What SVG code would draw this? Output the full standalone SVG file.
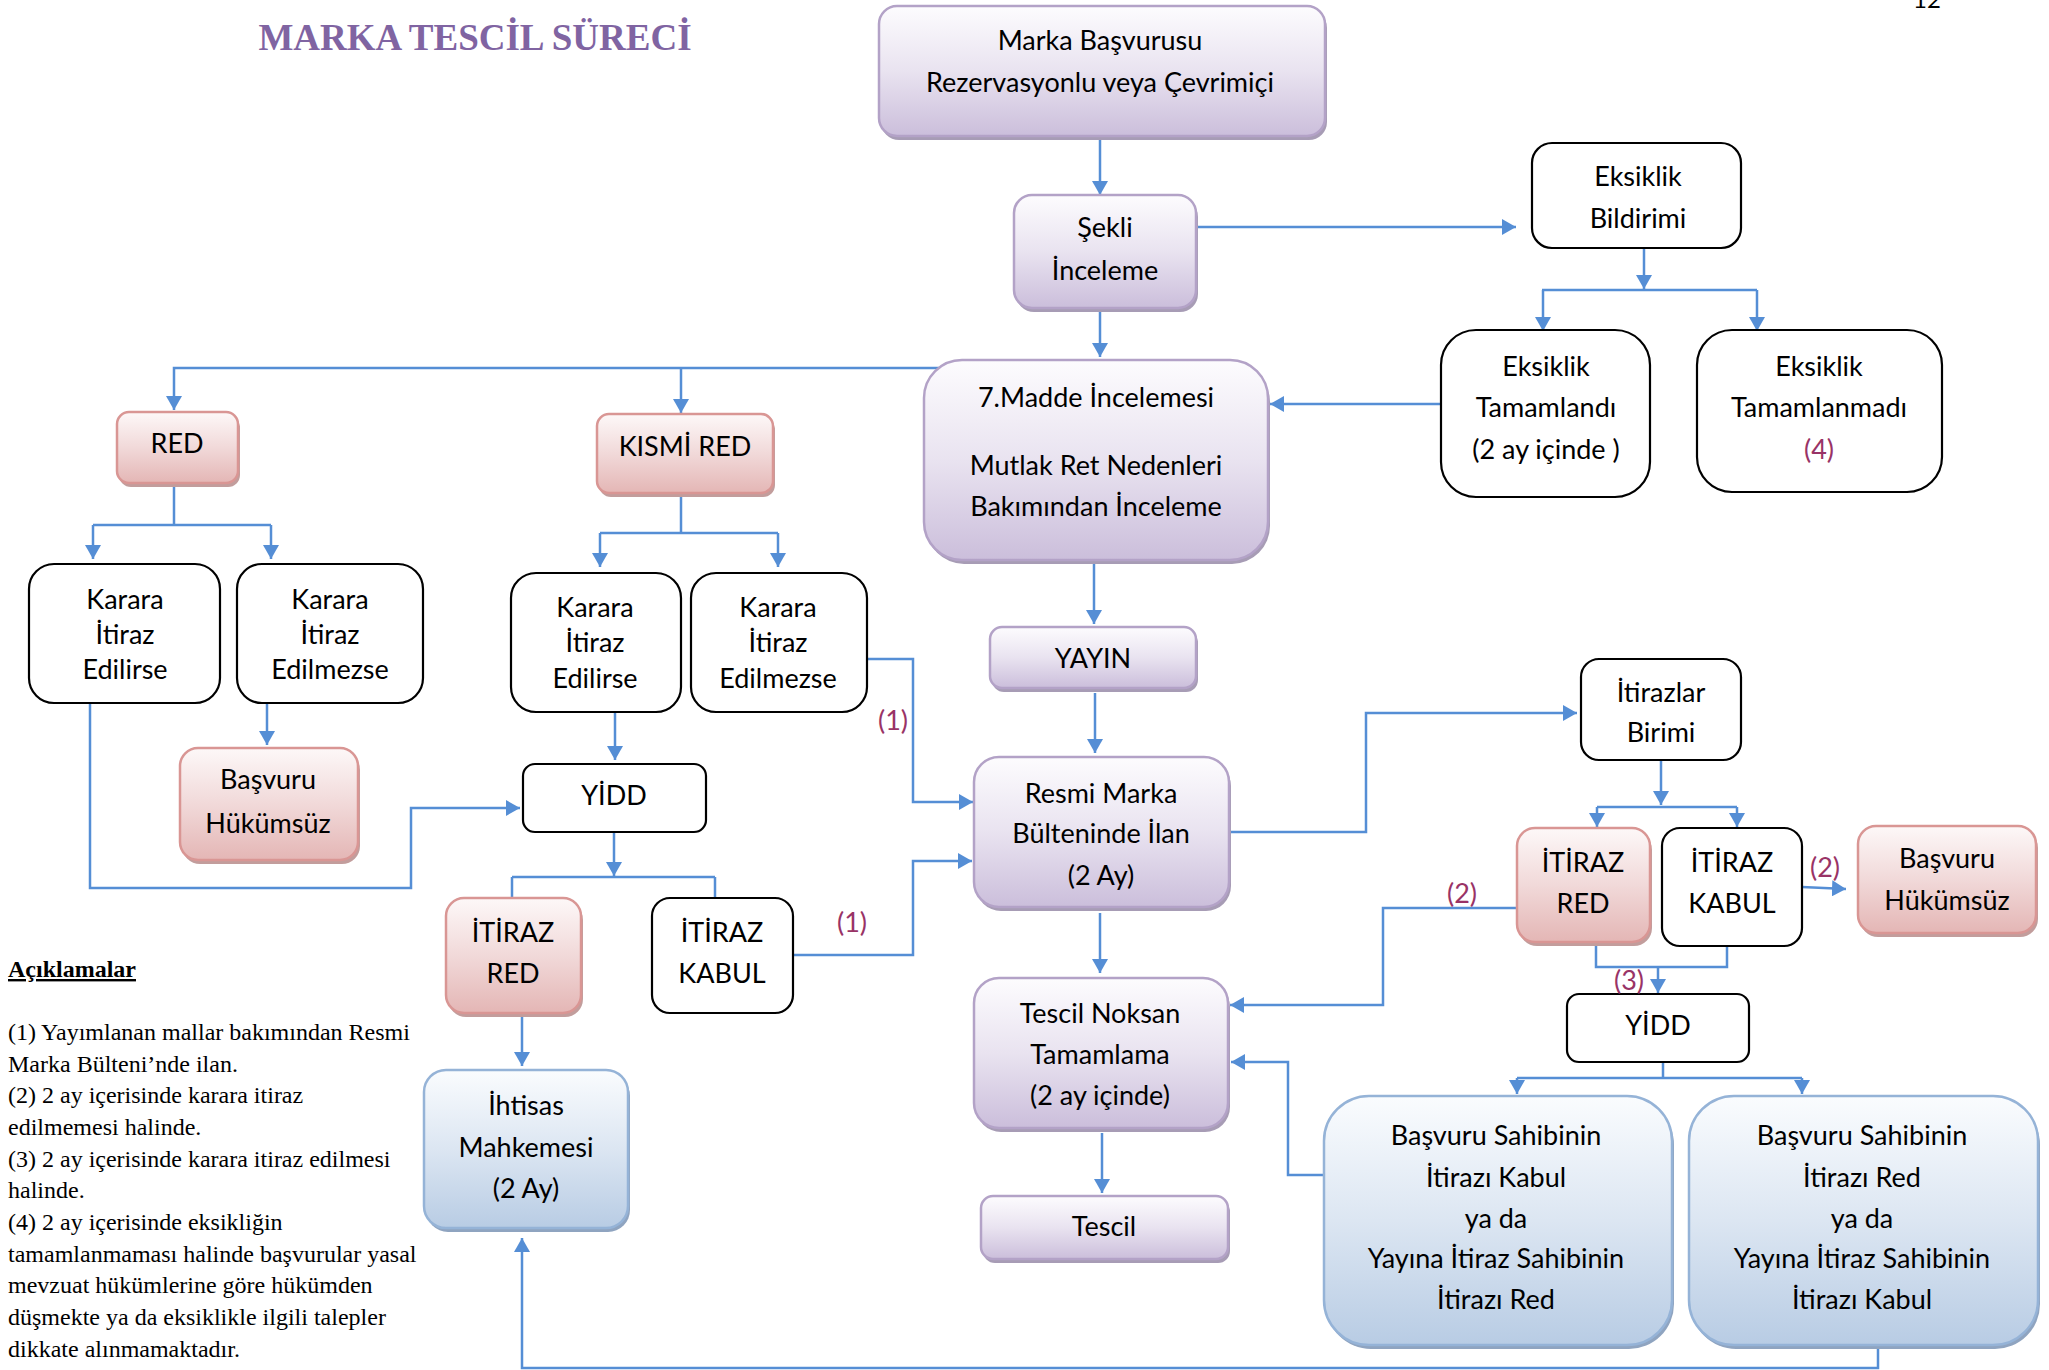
<svg xmlns="http://www.w3.org/2000/svg" width="2049" height="1370" viewBox="0 0 2049 1370">
<defs>
<linearGradient id="gp" x1="0" y1="0" x2="0" y2="1"><stop offset="0" stop-color="#fdfcfe"/><stop offset="0.5" stop-color="#e9e3f0"/><stop offset="1" stop-color="#cbbedb"/></linearGradient>
<linearGradient id="gk" x1="0" y1="0" x2="0" y2="1"><stop offset="0" stop-color="#fdf8f8"/><stop offset="0.5" stop-color="#f1d9d9"/><stop offset="1" stop-color="#e4b6b5"/></linearGradient>
<linearGradient id="gb" x1="0" y1="0" x2="0" y2="1"><stop offset="0" stop-color="#fafcfe"/><stop offset="0.5" stop-color="#dce6f2"/><stop offset="1" stop-color="#b8cce4"/></linearGradient>
<marker id="ah" viewBox="0 0 14 16" refX="14" refY="8" markerWidth="14" markerHeight="16" markerUnits="userSpaceOnUse" orient="auto"><path d="M0,0 L14,8 L0,16 z" fill="#558ED5"/></marker>
<style>
.t{font-family:Lato,"Liberation Sans",sans-serif;font-size:27px;fill:#000;text-anchor:middle}
.lb{font-family:Lato,"Liberation Sans",sans-serif;font-size:27px;fill:#993366;text-anchor:middle}
.lg{font-family:"Liberation Serif","Times New Roman",serif;font-size:24px;fill:#000}
.p{fill:url(#gp);stroke:#b3a2c7;stroke-width:2.5}
.k{fill:url(#gk);stroke:#d99694;stroke-width:2.5}
.b{fill:url(#gb);stroke:#95b3d7;stroke-width:2.5}
.w{fill:#fff;stroke:#000;stroke-width:2.2}
.sp{fill:#a79cb5}
.sk{fill:#c29d9c}
.sb{fill:#8fa4c0}
.c{fill:none;stroke:#558ED5;stroke-width:2.5}
.a{marker-end:url(#ah)}
</style>
</defs>
<rect width="2049" height="1370" fill="#fff"/>
<text x="475" y="50" font-family="'Liberation Serif','Times New Roman',serif" font-weight="bold" font-size="37" fill="#8064A2" text-anchor="middle">MARKA TESCİL SÜRECİ</text>
<text class="t" x="1927" y="8" style="font-size:24px">12</text>

<g id="connectors">
<path class="c a" d="M1100,137 V195"/>
<path class="c a" d="M1100,311 V357"/>
<path class="c a" d="M1196,227 H1516"/>
<path class="c a" d="M1644,248 V289"/>
<path class="c" d="M1542,290 H1757"/>
<path class="c a" d="M1543,290 V331"/>
<path class="c a" d="M1757,290 V331"/>
<path class="c a" d="M1441,404 H1270"/>
<path class="c a" d="M940,368 H174 V410"/>
<path class="c a" d="M681,368 V413"/>
<path class="c" d="M174,485 V525"/>
<path class="c" d="M93,525 H271"/>
<path class="c a" d="M93,525 V559"/>
<path class="c a" d="M271,525 V559"/>
<path class="c a" d="M267,703 V745"/>
<path class="c a" d="M90,703 V888 H411 V808 H520"/>
<path class="c" d="M681,494 V533"/>
<path class="c" d="M600,533 H778"/>
<path class="c a" d="M600,533 V567"/>
<path class="c a" d="M778,533 V567"/>
<path class="c a" d="M615,712 V760"/>
<path class="c a" d="M867,659 H913 V802 H973"/>
<path class="c a" d="M614,832 V876"/>
<path class="c" d="M512,877 H715"/>
<path class="c" d="M512,877 V898"/>
<path class="c" d="M715,877 V898"/>
<path class="c a" d="M522,1015 V1066"/>
<path class="c a" d="M793,955 H913 V861 H972"/>
<path class="c a" d="M1094,562 V624"/>
<path class="c a" d="M1095,693 V753"/>
<path class="c a" d="M1229,832 H1366 V713 H1577"/>
<path class="c a" d="M1100,913 V973"/>
<path class="c a" d="M1661,760 V805"/>
<path class="c" d="M1597,807 H1737"/>
<path class="c a" d="M1597,807 V827"/>
<path class="c a" d="M1737,807 V827"/>
<path class="c a" d="M1802,887 L1846,889"/>
<path class="c a" d="M1516,908 H1383 V1005 H1230"/>
<path class="c" d="M1596,943 V967 H1727 V947"/>
<path class="c a" d="M1658,967 V993"/>
<path class="c" d="M1663,1062 V1078"/>
<path class="c" d="M1517,1078 H1802"/>
<path class="c a" d="M1517,1078 V1094"/>
<path class="c a" d="M1802,1078 V1094"/>
<path class="c a" d="M1324,1175 H1288 V1062 H1231"/>
<path class="c a" d="M1102,1133 V1193"/>
<path class="c a" d="M1878,1343 V1368 H522 V1238"/>
</g>

<g id="n_marka"><rect class="sp" x="881" y="10" width="446" height="130" rx="18"/><rect class="p" x="879" y="6" width="446" height="130" rx="18"/><text class="t" x="1100" y="50">Marka Başvurusu</text><text class="t" x="1100" y="92">Rezervasyonlu veya Çevrimiçi</text></g>
<g id="n_sekli"><rect class="sp" x="1016" y="199" width="182" height="113" rx="18"/><rect class="p" x="1014" y="195" width="182" height="113" rx="18"/><text class="t" x="1105" y="237">Şekli</text><text class="t" x="1105" y="280">İnceleme</text></g>
<g id="n_eksiklik_bildirimi"><rect class="w" x="1532" y="143" width="209" height="105" rx="20"/><text class="t" x="1638" y="186">Eksiklik</text><text class="t" x="1638" y="228">Bildirimi</text></g>
<g id="n_eksiklik_tamamlandi"><rect class="w" x="1441" y="330" width="209" height="167" rx="35"/><text class="t" x="1546" y="376">Eksiklik</text><text class="t" x="1546" y="417">Tamamlandı</text><text class="t" x="1546" y="459">(2 ay içinde )</text></g>
<g id="n_eksiklik_tamamlanmadi"><rect class="w" x="1697" y="330" width="245" height="162" rx="35"/><text class="t" x="1819" y="376">Eksiklik</text><text class="t" x="1819" y="417">Tamamlanmadı</text><text class="lb" x="1819" y="459">(4)</text></g>
<g id="n_madde7"><rect class="sp" x="926" y="364" width="344" height="200" rx="38"/><rect class="p" x="924" y="360" width="344" height="200" rx="38"/><text class="t" x="1096" y="407">7.Madde İncelemesi</text><text class="t" x="1096" y="475">Mutlak Ret Nedenleri</text><text class="t" x="1096" y="516">Bakımından İnceleme</text></g>
<g id="n_red"><rect class="sk" x="119" y="416" width="121" height="71" rx="12"/><rect class="k" x="117" y="412" width="121" height="71" rx="12"/><text class="t" x="177" y="453">RED</text></g>
<g id="n_kismi_red"><rect class="sk" x="599" y="418" width="176" height="79" rx="12"/><rect class="k" x="597" y="414" width="176" height="79" rx="12"/><text class="t" x="685" y="456">KISMİ RED</text></g>
<g id="n_karara_itiraz_edilirse_1"><rect class="w" x="29" y="564" width="191" height="139" rx="25"/><text class="t" x="125" y="609">Karara</text><text class="t" x="125" y="644">İtiraz</text><text class="t" x="125" y="679">Edilirse</text></g>
<g id="n_karara_itiraz_edilmezse_1"><rect class="w" x="237" y="564" width="186" height="139" rx="25"/><text class="t" x="330" y="609">Karara</text><text class="t" x="330" y="644">İtiraz</text><text class="t" x="330" y="679">Edilmezse</text></g>
<g id="n_basvuru_hukumsuz_1"><rect class="sk" x="182" y="752" width="178" height="112" rx="18"/><rect class="k" x="180" y="748" width="178" height="112" rx="18"/><text class="t" x="268" y="789">Başvuru</text><text class="t" x="268" y="833">Hükümsüz</text></g>
<g id="n_karara_itiraz_edilirse_2"><rect class="w" x="511" y="573" width="170" height="139" rx="25"/><text class="t" x="595" y="617">Karara</text><text class="t" x="595" y="652">İtiraz</text><text class="t" x="595" y="688">Edilirse</text></g>
<g id="n_karara_itiraz_edilmezse_2"><rect class="w" x="691" y="573" width="176" height="139" rx="25"/><text class="t" x="778" y="617">Karara</text><text class="t" x="778" y="652">İtiraz</text><text class="t" x="778" y="688">Edilmezse</text></g>
<g id="n_yidd_1"><rect class="w" x="523" y="764" width="183" height="68" rx="12"/><text class="t" x="614" y="805">YİDD</text></g>
<g id="n_itiraz_red_1"><rect class="sk" x="448" y="902" width="135" height="115" rx="18"/><rect class="k" x="446" y="898" width="135" height="115" rx="18"/><text class="t" x="513" y="942">İTİRAZ</text><text class="t" x="513" y="983">RED</text></g>
<g id="n_itiraz_kabul_1"><rect class="w" x="652" y="898" width="141" height="115" rx="18"/><text class="t" x="722" y="942">İTİRAZ</text><text class="t" x="722" y="983">KABUL</text></g>
<g id="n_ihtisas"><rect class="sb" x="426" y="1074" width="204" height="158" rx="22"/><rect class="b" x="424" y="1070" width="204" height="158" rx="22"/><text class="t" x="526" y="1115">İhtisas</text><text class="t" x="526" y="1157">Mahkemesi</text><text class="t" x="526" y="1198">(2 Ay)</text></g>
<g id="n_yayin"><rect class="sp" x="992" y="631" width="206" height="61" rx="12"/><rect class="p" x="990" y="627" width="206" height="61" rx="12"/><text class="t" x="1093" y="668">YAYIN</text></g>
<g id="n_resmi"><rect class="sp" x="976" y="761" width="255" height="150" rx="25"/><rect class="p" x="974" y="757" width="255" height="150" rx="25"/><text class="t" x="1101" y="803">Resmi Marka</text><text class="t" x="1101" y="843">Bülteninde İlan</text><text class="t" x="1101" y="885">(2 Ay)</text></g>
<g id="n_itirazlar_birimi"><rect class="w" x="1581" y="659" width="160" height="101" rx="18"/><text class="t" x="1661" y="702">İtirazlar</text><text class="t" x="1661" y="742">Birimi</text></g>
<g id="n_itiraz_red_2"><rect class="sk" x="1519" y="832" width="133" height="114" rx="18"/><rect class="k" x="1517" y="828" width="133" height="114" rx="18"/><text class="t" x="1583" y="872">İTİRAZ</text><text class="t" x="1583" y="913">RED</text></g>
<g id="n_itiraz_kabul_2"><rect class="w" x="1662" y="828" width="140" height="118" rx="18"/><text class="t" x="1732" y="872">İTİRAZ</text><text class="t" x="1732" y="913">KABUL</text></g>
<g id="n_basvuru_hukumsuz_2"><rect class="sk" x="1860" y="830" width="178" height="107" rx="18"/><rect class="k" x="1858" y="826" width="178" height="107" rx="18"/><text class="t" x="1947" y="868">Başvuru</text><text class="t" x="1947" y="910">Hükümsüz</text></g>
<g id="n_yidd_2"><rect class="w" x="1567" y="994" width="182" height="68" rx="12"/><text class="t" x="1658" y="1035">YİDD</text></g>
<g id="n_sonuc_1"><rect class="sb" x="1326" y="1100" width="348" height="249" rx="45"/><rect class="b" x="1324" y="1096" width="348" height="249" rx="45"/><text class="t" x="1496" y="1145">Başvuru Sahibinin</text><text class="t" x="1496" y="1187">İtirazı Kabul</text><text class="t" x="1496" y="1228">ya da</text><text class="t" x="1496" y="1268">Yayına İtiraz Sahibinin</text><text class="t" x="1496" y="1309">İtirazı Red</text></g>
<g id="n_sonuc_2"><rect class="sb" x="1691" y="1100" width="349" height="249" rx="45"/><rect class="b" x="1689" y="1096" width="349" height="249" rx="45"/><text class="t" x="1862" y="1145">Başvuru Sahibinin</text><text class="t" x="1862" y="1187">İtirazı Red</text><text class="t" x="1862" y="1228">ya da</text><text class="t" x="1862" y="1268">Yayına İtiraz Sahibinin</text><text class="t" x="1862" y="1309">İtirazı Kabul</text></g>
<g id="n_noksan"><rect class="sp" x="976" y="982" width="254" height="150" rx="25"/><rect class="p" x="974" y="978" width="254" height="150" rx="25"/><text class="t" x="1100" y="1023">Tescil Noksan</text><text class="t" x="1100" y="1064">Tamamlama</text><text class="t" x="1100" y="1105">(2 ay içinde)</text></g>
<g id="n_tescil"><rect class="sp" x="983" y="1200" width="247" height="63" rx="12"/><rect class="p" x="981" y="1196" width="247" height="63" rx="12"/><text class="t" x="1104" y="1236">Tescil</text></g>

<g id="labels">
<text class="lb" x="893" y="730">(1)</text>
<text class="lb" x="852" y="932">(1)</text>
<text class="lb" x="1462" y="903">(2)</text>
<text class="lb" x="1825" y="877">(2)</text>
<text class="lb" x="1629" y="990">(3)</text>
</g>

<g id="legend">
<text class="lg" x="8" y="977" font-weight="bold" text-decoration="underline">Açıklamalar</text>
<text class="lg" x="8" y="1040">(1) Yayımlanan mallar bakımından Resmi</text>
<text class="lg" x="8" y="1072">Marka Bülteni’nde ilan.</text>
<text class="lg" x="8" y="1103">(2) 2 ay içerisinde karara itiraz</text>
<text class="lg" x="8" y="1135">edilmemesi halinde.</text>
<text class="lg" x="8" y="1167">(3) 2 ay içerisinde karara itiraz edilmesi</text>
<text class="lg" x="8" y="1198">halinde.</text>
<text class="lg" x="8" y="1230">(4) 2 ay içerisinde eksikliğin</text>
<text class="lg" x="8" y="1262">tamamlanmaması halinde başvurular yasal</text>
<text class="lg" x="8" y="1293">mevzuat hükümlerine göre hükümden</text>
<text class="lg" x="8" y="1325">düşmekte ya da eksiklikle ilgili talepler</text>
<text class="lg" x="8" y="1357">dikkate alınmamaktadır.</text>
</g>
</svg>
